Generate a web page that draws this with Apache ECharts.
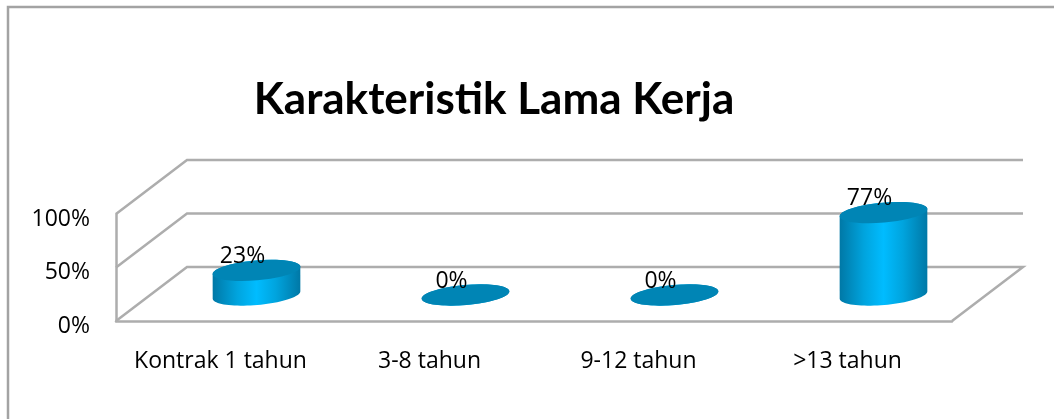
<!DOCTYPE html>
<html>
<head>
<meta charset="utf-8">
<style>
  html, body { margin: 0; padding: 0; background: #fff; }
  #chart { width: 1054px; height: 419px; }
</style>
<script src="https://cdn.jsdelivr.net/npm/echarts@6/dist/echarts.min.js"></script>
</head>
<body>
<div id="chart"></div>
<script>
const categories = ['Kontrak 1 tahun', '3-8 tahun', '9-12 tahun', '>13 tahun'];
const values = [23, 0, 0, 77];
const yTicks = [0, 50, 100];

// fake 3d: how far the back wall sits from the front plane
const depthX = 71;
const depthY = 54;
const titleFont = 'Lato, sans-serif';
const labelFont = '"Open Sans", sans-serif';
const labelSize = 23;
const lineColor = '#adadad';

function renderWalls(params, api) {
  const tick = api.value(0);
  const y = api.coord([0, tick])[1];
  const rect = params.coordSys;
  const left = rect.x;
  const right = rect.x + rect.width;
  const points = [[left, y], [left + depthX, y - depthY], [right + depthX, y - depthY]];
  if (tick === 0) {
    points.push([right, y]);
  }
  return {
    type: 'polyline',
    shape: { points: points },
    style: { fill: 'none', stroke: lineColor, lineWidth: 2.5 }
  };
}

function renderCylinder(params, api) {
  const base = api.coord([api.value(0), 0]);
  const top = api.coord([api.value(0), api.value(1)]);
  const cx = base[0] + depthX / 2 + 0.5;
  const baseY = base[1] - depthY / 2 + 1;
  const topY = top[1] - depthY / 2 + 1;
  const rx = 44;
  const ry = 10;
  const tilt = 5 * Math.PI / 180;

  const ellipsePoint = (cy, t) => {
    const ex = rx * Math.cos(t);
    const ey = ry * Math.sin(t);
    return [
      cx + ex * Math.cos(tilt) + ey * Math.sin(tilt),
      cy - ex * Math.sin(tilt) + ey * Math.cos(tilt)
    ];
  };

  // lower half of the base, then back along the upper half of the top
  const body = [];
  for (let i = 0; i <= 40; i++) {
    body.push(ellipsePoint(baseY, Math.PI * i / 40));
  }
  for (let i = 0; i <= 40; i++) {
    body.push(ellipsePoint(topY, Math.PI + Math.PI * i / 40));
  }

  return {
    type: 'group',
    children: [
      {
        type: 'polygon',
        shape: { points: body },
        style: {
          fill: new echarts.graphic.LinearGradient(0, 0, 1, 0, [
            { offset: 0, color: '#0078a6' },
            { offset: 0.28, color: '#00a4de' },
            { offset: 0.5, color: '#00bcff' },
            { offset: 0.72, color: '#00a4de' },
            { offset: 1, color: '#0078a6' }
          ])
        }
      },
      {
        type: 'ellipse',
        shape: { cx: cx, cy: topY, rx: rx, ry: ry },
        rotation: tilt,
        originX: cx,
        originY: topY,
        style: { fill: '#0085b5' }
      },
      {
        type: 'text',
        x: cx - 14,
        y: topY - 14,
        style: {
          text: api.value(1) + '%',
          font: labelSize + 'px ' + labelFont,
          fill: '#000',
          align: 'center',
          verticalAlign: 'middle'
        }
      }
    ]
  };
}

const chart = echarts.init(document.getElementById('chart'));
chart.setOption({
  animation: false,
  backgroundColor: '#fff',
  title: {
    text: 'Karakteristik Lama Kerja',
    left: 489,
    top: 73,
    textAlign: 'center',
    textStyle: { fontFamily: titleFont, fontSize: 44, fontWeight: 'bold', color: '#000' }
  },
  graphic: [{
    type: 'rect',
    shape: { x: 8, y: 7, width: 1100, height: 500 },
    style: { fill: 'none', stroke: '#a3a3a3', lineWidth: 2.5 },
    silent: true
  }],
  grid: { left: 116, top: 214, width: 836, height: 107 },
  xAxis: {
    type: 'category',
    data: categories,
    axisTick: { show: false },
    axisLine: { lineStyle: { color: lineColor, width: 2.5 } },
    axisLabel: { margin: 29, fontFamily: labelFont, fontSize: labelSize, color: '#000', interval: 0 }
  },
  yAxis: {
    type: 'value',
    min: 0,
    max: 100,
    interval: 50,
    axisTick: { show: false },
    splitLine: { show: false },
    axisLine: { show: true, lineStyle: { color: lineColor, width: 2.5 } },
    axisLabel: {
      margin: 26,
      fontFamily: labelFont,
      fontSize: labelSize,
      color: '#000',
      verticalAlign: 'top',
      lineHeight: 10,
      formatter: '{value}%'
    }
  },
  series: [
    {
      type: 'custom',
      renderItem: renderWalls,
      data: yTicks.map(t => [t]),
      encode: { y: 0 },
      z: 1,
      silent: true
    },
    {
      type: 'custom',
      renderItem: renderCylinder,
      data: values.map((v, i) => [i, v]),
      encode: { x: 0, y: 1 },
      z: 2
    }
  ]
});
</script>
</body>
</html>
